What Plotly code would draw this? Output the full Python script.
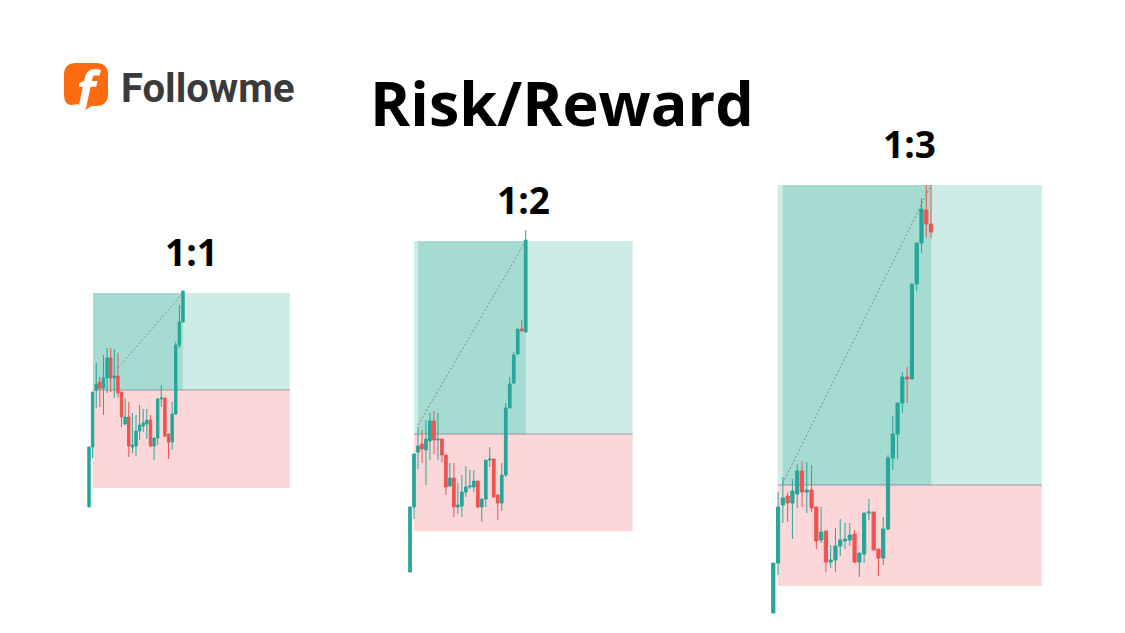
import plotly.graph_objects as go

W, H = 1125, 633

# ---------------- data ----------------
title_text = "Risk/Reward"
brand_text = "Followme"
ratio_labels = ["1:1", "1:2", "1:3"]

# panel 1 (1:1)
open_1 = [93, 153, 210, 218, 212, 222, 242, 222, 224, 208, 176, 183, 153, 154, 169, 174, 176, 180, 154, 162, 201, 202, 166, 158, 186, 255, 278]
high_1 = [153, 208, 237, 223, 245, 252, 252, 251, 247, 208, 202, 198, 187, 185, 195, 191, 191, 185, 163, 202, 215, 202, 166, 198, 258, 295, 309]
low_1 = [93, 142, 192, 193, 185, 207, 208, 202, 202, 173, 175, 143, 147, 144, 160, 168, 161, 153, 140, 155, 193, 163, 141, 150, 185, 252, 278]
close_1 = [153, 208, 216, 212, 222, 242, 222, 224, 207, 183, 183, 154, 155, 169, 175, 177, 180, 154, 162, 201, 202, 164, 158, 186, 255, 278, 309]

# panel 2 (1:2)
open_2 = [28, 93, 148, 156, 150, 159, 179, 160, 161, 145, 114, 122, 93, 94, 108, 113, 113, 119, 93, 101, 140, 141, 105, 97, 125, 192, 217, 246, 271, 268]
high_2 = [93, 146, 173, 170, 180, 187, 189, 187, 161, 145, 137, 137, 117, 125, 134, 130, 130, 119, 101, 140, 153, 141, 105, 137, 197, 223, 248, 271, 280, 370]
low_2 = [28, 81, 131, 137, 115, 140, 146, 140, 138, 105, 113, 83, 86, 83, 103, 111, 108, 92, 78, 93, 133, 103, 80, 89, 123, 192, 216, 246, 269, 268]
close_2 = [93, 146, 154, 151, 161, 179, 160, 161, 145, 113, 122, 93, 95, 108, 113, 114, 119, 93, 101, 140, 141, 103, 97, 125, 192, 216, 245, 271, 269, 360]

# panel 3 (1:3)
open_3 = [-13, 37, 95, 104, 97, 106, 129, 108, 110, 93, 60, 69, 38, 40, 54, 59, 60, 66, 38, 46, 87, 88, 51, 42, 71, 142, 166, 197, 223, 221, 316, 357, 390, 376]
high_3 = [37, 108, 123, 108, 121, 136, 139, 138, 135, 93, 93, 69, 55, 72, 81, 77, 77, 70, 47, 87, 101, 88, 51, 83, 145, 184, 197, 228, 233, 316, 357, 402, 415, 415]
low_3 = [-13, 25, 77, 78, 61, 92, 93, 87, 88, 51, 57, 28, 32, 28, 44, 51, 54, 37, 23, 37, 80, 50, 24, 35, 70, 130, 141, 187, 197, 221, 309, 347, 363, 362]
close_3 = [37, 93, 102, 97, 109, 129, 108, 110, 92, 59, 68, 38, 40, 54, 60, 61, 65, 38, 47, 87, 88, 50, 42, 71, 142, 166, 197, 223, 221, 316, 357, 391, 376, 368]

# position tool per panel
entry_price = [210, 166, 115]
stop_price = [112, 69, 14]
target_price = [307, 359, 415]
box_start = [1.1, 1.0, 0.9]
zone_start = [1.1, 2.0, 2.0]
zone_end = [26, 29, 33]
box_end = [55.6, 55.8, 56.2]
path_from_x = [8, 2, 2]
path_from_y = [232, 175, 117]

panels = [
    (open_1, high_1, low_1, close_1),
    (open_2, high_2, low_2, close_2),
    (open_3, high_3, low_3, close_3),
]

# ---------------- layout geometry (pixels) ----------------
first_px = [89, 410, 773.3]
step_px = [3.615, 3.99, 4.78]
dom_px = [(70, 310), (395, 650), (760, 1060)]
Y_RANGE = [-33, 600]

UP = "#26a69a"
DOWN = "#ef5350"
PINK = "rgba(242,54,69,0.2)"
GREEN = "rgba(8,153,129,0.2)"
GRAY = "rgba(120,123,134,0.7)"


def px_x(px):
    return px / W


def px_y(py):
    return 1 - py / H


fig = go.Figure()
shapes = []
annotations = []
layout_axes = {}

for k, (o, h, l, c) in enumerate(panels):
    n = k + 1
    xa = "x" if n == 1 else f"x{n}"
    ya = "y" if n == 1 else f"y{n}"
    xkey = "xaxis" if n == 1 else f"xaxis{n}"
    ykey = "yaxis" if n == 1 else f"yaxis{n}"
    fig.add_trace(go.Candlestick(
        x=list(range(len(o))), open=o, high=h, low=l, close=c,
        xaxis=xa, yaxis=ya,
        increasing=dict(line=dict(color=UP, width=1), fillcolor=UP),
        decreasing=dict(line=dict(color=DOWN, width=1), fillcolor=DOWN),
        whiskerwidth=0, showlegend=False, hoverinfo="skip",
    ))
    d0, d1 = dom_px[k]
    r0 = (d0 - first_px[k]) / step_px[k]
    r1 = (d1 - first_px[k]) / step_px[k]
    layout_axes[xkey] = dict(domain=[px_x(d0), px_x(d1)], range=[r0, r1], visible=False,
                             rangeslider=dict(visible=False), anchor=ya, fixedrange=True)
    layout_axes[ykey] = dict(domain=[0, 1], range=Y_RANGE, visible=False, anchor=xa, fixedrange=True)

    shapes.append(dict(type="rect", xref=xa, yref=ya, x0=box_start[k], x1=box_end[k],
                       y0=entry_price[k], y1=target_price[k], fillcolor=GREEN,
                       line=dict(width=0), layer="below"))
    shapes.append(dict(type="rect", xref=xa, yref=ya, x0=zone_start[k], x1=zone_end[k],
                       y0=entry_price[k], y1=target_price[k], fillcolor=GREEN,
                       line=dict(width=0), layer="below"))
    shapes.append(dict(type="rect", xref=xa, yref=ya, x0=box_start[k], x1=box_end[k],
                       y0=stop_price[k], y1=entry_price[k], fillcolor=PINK,
                       line=dict(width=0), layer="below"))
    shapes.append(dict(type="line", xref=xa, yref=ya, x0=box_start[k], x1=box_end[k],
                       y0=entry_price[k], y1=entry_price[k],
                       line=dict(color=GRAY, width=1), layer="below"))
    shapes.append(dict(type="line", xref=xa, yref=ya, x0=path_from_x[k], x1=zone_end[k],
                       y0=path_from_y[k], y1=target_price[k],
                       line=dict(color="rgba(115,125,125,0.85)", width=1, dash="2px,2px"), layer="below"))
    annotations.append(dict(text=f"<b>{ratio_labels[k]}</b>", xref=xa, yref=ya,
                            x=(box_start[k] + box_end[k]) / 2, y=target_price[k],
                            yshift=42, showarrow=False, yanchor="middle", xanchor="center",
                            font=dict(family="Open Sans", size=37, color="#000000")))

annotations.append(dict(text=f"<b>{title_text}</b>", xref="paper", yref="paper",
                        x=px_x(562), y=px_y(102), showarrow=False,
                        xanchor="center", yanchor="middle",
                        font=dict(family="Open Sans", size=61, color="#000000")))

# logo badge
r = 12
x0, x1, y0, y1 = 64, 108, 63, 106
pts = [
    ("M", (x0 + r, y0)), ("L", (x1 - r, y0)), ("Q", (x1, y0), (x1, y0 + r)),
    ("L", (x1, y1 - r)), ("Q", (x1, y1), (x1 - r, y1)), ("L", (91, y1)),
    ("L", (82, 113)), ("L", (78, y1 - 2)), ("L", (x0 + r - 4, y1 - 1)),
    ("Q", (x0, y1), (x0, y1 - r)), ("L", (x0, y0 + r)), ("Q", (x0, y0), (x0 + r, y0)),
]
path = ""
for item in pts:
    cmd = item[0]
    coords = " ".join(f"{px_x(p[0]):.5f},{px_y(p[1]):.5f}" for p in item[1:])
    path += f"{cmd}{coords} "
path += "Z"
shapes.append(dict(type="path", xref="paper", yref="paper", path=path,
                   fillcolor="#fe6a10", line=dict(width=0)))
annotations.append(dict(text="<b><i>f</i></b>", xref="paper", yref="paper",
                        x=px_x(86), y=px_y(89), showarrow=False,
                        xanchor="center", yanchor="middle",
                        font=dict(family="Open Sans", size=52, color="#ffffff")))
annotations.append(dict(text=brand_text, xref="paper", yref="paper",
                        x=px_x(119), y=px_y(88), showarrow=False,
                        xanchor="left", yanchor="middle",
                        font=dict(family="Roboto", size=40, color="#3a3a3a", weight=700)))

fig.update_layout(
    width=W, height=H,
    margin=dict(l=0, r=0, t=0, b=0),
    paper_bgcolor="#ffffff", plot_bgcolor="rgba(0,0,0,0)",
    boxgap=0.05,
    shapes=shapes, annotations=annotations,
    showlegend=False,
    **layout_axes,
)

fig.write_html("out.html", config={"displayModeBar": False},
               post_script="document.body.style.margin='0px';document.body.style.overflow='hidden';")
